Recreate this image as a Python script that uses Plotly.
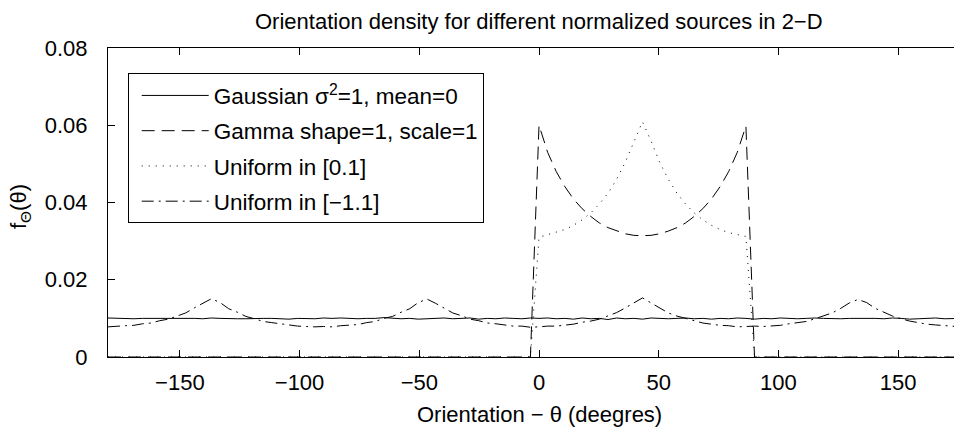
import numpy as np
import plotly.graph_objects as go

# bin start angles (degrees), 3.6 degree bins
theta = np.round(np.arange(-180, 180, 3.6), 1)

gaussian = [
    0.0101, 0.0100, 0.0099, 0.0099, 0.0100, 0.0100, 0.0101, 0.0100, 0.0101, 0.0100,
    0.0100, 0.0099, 0.0101, 0.0100, 0.0099, 0.0099, 0.0099, 0.0100, 0.0100, 0.0100,
    0.0099, 0.0098, 0.0100, 0.0100, 0.0099, 0.0101, 0.0100, 0.0101, 0.0100, 0.0099,
    0.0100, 0.0100, 0.0102, 0.0100, 0.0099, 0.0100, 0.0098, 0.0099, 0.0100, 0.0101,
    0.0099, 0.0100, 0.0101, 0.0098, 0.0100, 0.0099, 0.0101, 0.0100, 0.0099, 0.0101,
    0.0100, 0.0101, 0.0099, 0.0100, 0.0098, 0.0101, 0.0099, 0.0100, 0.0097, 0.0101,
    0.0099, 0.0100, 0.0098, 0.0101, 0.0100, 0.0099, 0.0100, 0.0101, 0.0099, 0.0100,
    0.0098, 0.0100, 0.0099, 0.0101, 0.0100, 0.0098, 0.0100, 0.0099, 0.0101, 0.0100,
    0.0099, 0.0100, 0.0101, 0.0100, 0.0099, 0.0099, 0.0100, 0.0100, 0.0101, 0.0100,
    0.0099, 0.0101, 0.0100, 0.0098, 0.0099, 0.0100, 0.0101, 0.0099, 0.0100, 0.0100,
]

gamma = [0.0] * 50 + [
    0.0600, 0.0530, 0.0480, 0.0441, 0.0409, 0.0384, 0.0364, 0.0347, 0.0335, 0.0326,
    0.0319, 0.0315, 0.0314, 0.0315, 0.0319, 0.0326, 0.0335, 0.0347, 0.0364, 0.0384,
    0.0409, 0.0441, 0.0480, 0.0530, 0.0598,
] + [0.0] * 25

uniform01 = [0.0] * 50 + [
    0.0310, 0.0317, 0.0322, 0.0330, 0.0341, 0.0355, 0.0373, 0.0396, 0.0424, 0.0460,
    0.0504, 0.0559, 0.0609, 0.0559, 0.0504, 0.0460, 0.0424, 0.0396, 0.0373, 0.0355,
    0.0341, 0.0330, 0.0322, 0.0317, 0.0312,
] + [0.0] * 25

uniform11 = [
    0.0078, 0.0080, 0.0081, 0.0082, 0.0086, 0.0088, 0.0094, 0.0098, 0.0107, 0.0114,
    0.0127, 0.0139, 0.0151, 0.0141, 0.0125, 0.0116, 0.0105, 0.0099, 0.0092, 0.0089,
    0.0086, 0.0082, 0.0080, 0.0079, 0.0078,
    0.0079, 0.0078, 0.0081, 0.0083, 0.0084, 0.0089, 0.0092, 0.0100, 0.0105, 0.0116,
    0.0125, 0.0141, 0.0150, 0.0139, 0.0127, 0.0114, 0.0107, 0.0098, 0.0094, 0.0088,
    0.0086, 0.0083, 0.0080, 0.0080, 0.0077,
    0.0078, 0.0080, 0.0080, 0.0083, 0.0085, 0.0090, 0.0093, 0.0098, 0.0106, 0.0115,
    0.0127, 0.0139, 0.0153, 0.0140, 0.0126, 0.0114, 0.0106, 0.0100, 0.0093, 0.0088,
    0.0085, 0.0082, 0.0081, 0.0078, 0.0079,
    0.0080, 0.0079, 0.0080, 0.0082, 0.0086, 0.0089, 0.0092, 0.0099, 0.0107, 0.0114,
    0.0126, 0.0140, 0.0149, 0.0141, 0.0126, 0.0115, 0.0106, 0.0099, 0.0093, 0.0089,
    0.0085, 0.0083, 0.0081, 0.0079, 0.0078,
]

series_names = [
    "Gaussian σ<sup>2</sup>=1, mean=0",
    "Gamma shape=1, scale=1",
    "Uniform in [0.1]",
    "Uniform in [\u22121.1]",
]
x_ticks = [-150, -100, -50, 0, 50, 100, 150]
y_ticks = [0, 0.02, 0.04, 0.06, 0.08]
y_tick_text = ["0", "0.02", "0.04", "0.06", "0.08"]

FONT = "Liberation Sans, Arial, Helvetica, sans-serif"
FS = 22

fig = go.Figure()
styles = ["solid", "13px,7px", "1px,6px", "12px,5px,2px,5px"]
for i, (ys, nm, st) in enumerate(zip([gaussian, gamma, uniform01, uniform11], series_names, styles)):
    fig.add_trace(go.Scatter(
        x=theta, y=ys, mode="lines", name=nm, legendgroup=str(i),
        line=dict(color="black", width=1, dash=st),
    ))

fig.update_layout(
    width=954, height=427,
    margin=dict(l=108, r=0, t=48, b=70),
    paper_bgcolor="white", plot_bgcolor="white",
    font=dict(family=FONT, size=FS, color="black"),
    showlegend=True,
    legend=dict(
        x=(127.7 - 108) / 846, y=(357 - 73.3) / 309, xanchor="left", yanchor="top",
        bordercolor="black", borderwidth=1, bgcolor="white",
        font=dict(family=FONT, size=22.5, color="black"),
        itemwidth=67, tracegroupgap=3, indentation=8,
    ),
    xaxis=dict(
        range=[-180, 173.3], tickvals=x_ticks, ticks="inside", ticklen=7,
        tickcolor="black", showline=True, linecolor="black", linewidth=1,
        mirror="ticks", showgrid=False, zeroline=False,
        tickfont=dict(family=FONT, size=FS), ticklabelstandoff=6,
    ),
    yaxis=dict(
        range=[0, 0.08], tickvals=y_ticks, ticktext=y_tick_text, ticks="inside",
        ticklen=7, tickcolor="black", showline=True, linecolor="black", linewidth=1,
        mirror=False, showgrid=False, zeroline=False,
        tickfont=dict(family=FONT, size=FS), ticklabelstandoff=15,
    ),
    annotations=[
        dict(text="Orientation density for different normalized sources in 2\u2212D",
             xref="x", yref="paper", x=0, y=1 + 26 / 309, xanchor="center", yanchor="middle",
             showarrow=False, font=dict(family=FONT, size=FS)),
        dict(text="Orientation \u2212 \u03b8 (deegres)",
             xref="x", yref="paper", x=0, y=-57 / 309, xanchor="center", yanchor="middle",
             showarrow=False, font=dict(family=FONT, size=FS)),
        dict(text="f<sub>\u0398</sub>(\u03b8)", textangle=-90,
             xref="paper", yref="paper", x=-88 / 846, y=(357 - 207) / 309,
             xanchor="center", yanchor="middle",
             showarrow=False, font=dict(family=FONT, size=FS)),
    ],
)

fig.write_html("out.html")
